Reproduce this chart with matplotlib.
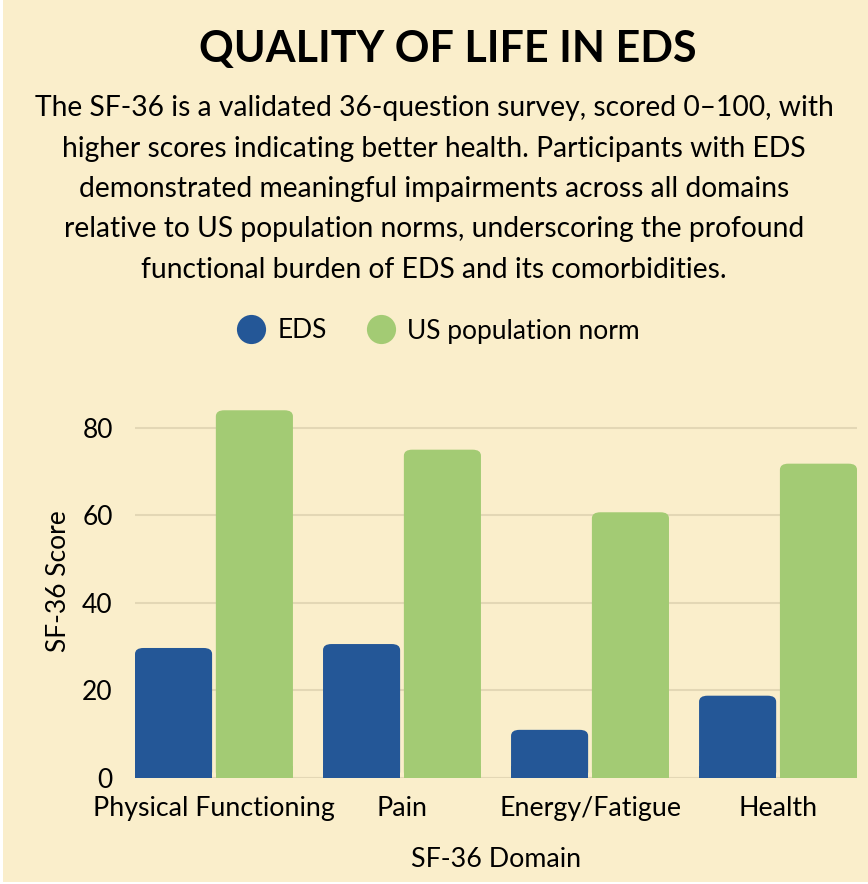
import numpy as np
import matplotlib.pyplot as plt
from matplotlib.lines import Line2D
from matplotlib.patches import Rectangle, FancyBboxPatch

domains = ["Physical Functioning", "Pain", "Energy/Fatigue", "Health"]
eds = [29.7, 30.6, 11.0, 18.8]
us_norm = [84.0, 75.0, 60.7, 71.8]
series_names = ["EDS", "US population norm"]

title = "QUALITY OF LIFE IN EDS"
subtitle = ("The SF-36 is a validated 36-question survey, scored 0\u2013100, with\n"
            "higher scores indicating better health. Participants with EDS\n"
            "demonstrated meaningful impairments across all domains\n"
            "relative to US population norms, underscoring the profound\n"
            "functional burden of EDS and its comorbidities.")

bg = "#FAEECB"
blue = "#245797"
green = "#A3CB74"
grid_c = "#E3D7B5"

plt.rcParams['font.family'] = ['Lato', 'DejaVu Sans']

W, H = 868, 884
fig = plt.figure(figsize=(W / 100, H / 100), dpi=100, facecolor="white")
fig.patches.append(Rectangle((3 / W, 2 / H), 1, 1, transform=fig.transFigure,
                             facecolor=bg, edgecolor="none", zorder=-10))

ax = fig.add_axes([135 / W, (H - 778) / H, (857 - 135) / W, (778 - 384) / H])
ax.set_facecolor(bg)

x = np.arange(len(domains))
bw = 0.41
off = 0.215
px_per_unit_y = 4.375

def rounded_bars(xs, vals, color):
    for xc, v in zip(xs, vals):
        # rounded top corners, square bottom
        rad_x = 0.045
        rad_y = 6 / px_per_unit_y
        p = FancyBboxPatch((xc - bw / 2, 0), bw, v,
                           boxstyle="round,pad=0,rounding_size=%f" % rad_x,
                           mutation_aspect=rad_y / rad_x,
                           facecolor=color, edgecolor="none", zorder=3)
        ax.add_patch(p)
        ax.add_patch(Rectangle((xc - bw / 2, 0), bw, min(v, 2 * rad_y),
                               facecolor=color, edgecolor="none", zorder=3))

rounded_bars(x - off, eds, blue)
rounded_bars(x + off, us_norm, green)

ax.set_xlim(-0.42, 3.42)
ax.set_ylim(0, 90)
ax.set_yticks([0, 20, 40, 60, 80])
ax.set_xticks(x)
ax.set_xticklabels(domains, fontsize=19.3)
ax.tick_params(axis="y", labelsize=19, length=0, pad=16)
ax.tick_params(axis="x", length=0, pad=13)
ax.grid(axis="y", color=grid_c, linewidth=1.5, zorder=0)
for s in ax.spines.values():
    s.set_visible(False)
ax.axhline(0, color=grid_c, linewidth=1.5, zorder=1)

ax.set_ylabel("SF-36 Score", fontsize=19, labelpad=8)
ax.set_xlabel("SF-36 Domain", fontsize=19.3, labelpad=19)

fig.text(448 / W, 1 - 49 / H, title, ha="center", va="center",
         fontsize=31, fontweight="bold")
fig.text(434 / W, 1 - 189 / H, subtitle, ha="center", va="center",
         fontsize=20.3, linespacing=1.69)

handles = [Line2D([], [], marker="o", linestyle="none", markersize=21,
                  markerfacecolor=c, markeredgecolor="none") for c in (blue, green)]
fig.legend(handles, series_names, loc="center", bbox_to_anchor=(432 / W, 1 - 331 / H),
           ncol=2, frameon=False, fontsize=19.0, handletextpad=0.0, columnspacing=1.05)

fig.savefig("out.png", dpi=100, facecolor=fig.get_facecolor())
